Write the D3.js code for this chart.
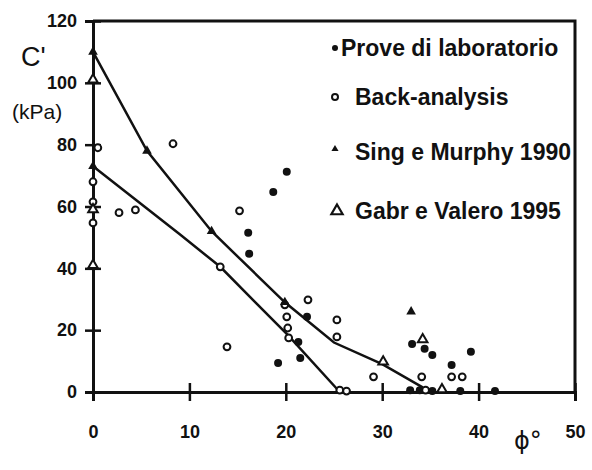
<!DOCTYPE html>
<html>
<head>
<meta charset="utf-8">
<title>C' - phi</title>
<script src="https://d3js.org/d3.v7.min.js"></script>
<style>
	body {margin:0; background:#fff;}
	text {fill:#111;}
</style>
</head>
<body>
<div id="chart"></div>
<script>
// phi (deg) , c' (kPa)
var prove = [[16.1,51.5],[16.2,44.7],[18.7,64.7],[20.1,71.2],[19.2,9.4],[21.3,16.2],[21.5,11],
	[22.2,24.3],[33.1,15.5],[34.4,14],[35.2,12],[39.2,13],[37.2,8.7],[32.9,0.6],[33.9,0.6],
	[35.2,0.3],[38.1,0.3],[41.7,0.3]];
var back = [[0.5,79],[8.3,80.3],[2.7,58],[4.4,58.9],[15.2,58.6],[13.2,40.5],[13.9,14.6],
	[19.9,28.2],[20.1,24.3],[20.2,20.7],[20.3,17.5],[22.3,29.8],[25.3,23.3],[25.3,17.8],
	[25.6,0.6],[26.3,0.3],[29.1,4.9],[34.1,4.9],[37.2,4.9],[38.3,4.9],[34.5,0.6],
	[0,68],[0,61.5],[0,54.7]];
var sing = [[0,110],[0,73],[5.6,78],[12.3,52],[19.9,29],[33,26]];
var gabr = [[0,101],[0,59],[0,41],[30.1,9.8],[34.2,17],[36.2,0.8]];

// fitted curves
var upperFit = [[0,110],[5.6,78],[12.3,52],[19.9,29],[25,16],[30,9],[34.2,1.5]];
var lowerFit = [[0,73],[4.5,62],[9,51],[13.2,40.5],[17,28.5],[20.2,18.5],[25.6,0]];

var xTicks = [0,10,20,30,40,50];
var yTicks = [0,20,40,60,80,100,120];
var legendLabels = ["Prove di laboratorio","Back-analysis","Sing e Murphy 1990","Gabr e Valero 1995"];

var svg = d3.select("#chart").append("svg")
	.attr("width",592)
	.attr("height",470);

var x = d3.scaleLinear().domain([0,50]).range([93,575]);
var y = d3.scaleLinear().domain([0,120]).range([392,21]);

var font = "'Liberation Sans', sans-serif";

// frame top + right
svg.append("path")
	.attr("d","M"+x(0)+","+y(120)+"H"+x(50)+"V"+y(0))
	.attr("fill","none").attr("stroke","#111").attr("stroke-width",3);

var yAxis = svg.append("g")
	.attr("transform","translate("+x(0)+",0)")
	.call(d3.axisLeft(y).tickValues(yTicks).tickSize(8).tickPadding(8));
yAxis.selectAll("line").attr("x1",8);

var xAxis = svg.append("g")
	.attr("transform","translate(0,"+y(0)+")")
	.call(d3.axisBottom(x).tickValues(xTicks).tickSize(9).tickPadding(24));
xAxis.selectAll("line").attr("y1",-9);

svg.selectAll(".domain").attr("stroke","#111").attr("stroke-width",3);
svg.selectAll(".tick line").attr("stroke","#111").attr("stroke-width",2.5);
svg.selectAll(".tick text")
	.attr("font-family",font).attr("font-size",18).attr("font-weight","bold").attr("fill","#111");

// fit lines
var line = d3.line().x(function(d){return x(d[0]);}).y(function(d){return y(d[1]);});
[upperFit,lowerFit].forEach(function(f){
	svg.append("path").attr("d",line(f))
		.attr("fill","none").attr("stroke","#111").attr("stroke-width",2.5);
});

var tri = d3.symbol().type(d3.symbolTriangle).size(40);

svg.selectAll(".prove").data(prove).enter().append("circle")
	.attr("cx",function(d){return x(d[0]);})
	.attr("cy",function(d){return y(d[1]);})
	.attr("r",4).attr("fill","#111");

svg.selectAll(".back").data(back).enter().append("circle")
	.attr("cx",function(d){return x(d[0]);})
	.attr("cy",function(d){return y(d[1]);})
	.attr("r",3.4).attr("fill","#fff").attr("stroke","#111").attr("stroke-width",2);

svg.selectAll(".sing").data(sing).enter().append("path")
	.attr("d",tri)
	.attr("transform",function(d){return "translate("+x(d[0])+","+y(d[1])+")";})
	.attr("fill","#111");

svg.selectAll(".gabr").data(gabr).enter().append("path")
	.attr("d",tri)
	.attr("transform",function(d){return "translate("+x(d[0])+","+y(d[1])+")";})
	.attr("fill","#fff").attr("stroke","#111").attr("stroke-width",2);

// legend
var legY = [48,97,152,211];
var legX = [341,355,355,355];
svg.append("circle").attr("cx",335).attr("cy",legY[0]).attr("r",3).attr("fill","#111");
svg.append("circle").attr("cx",335).attr("cy",legY[1]).attr("r",3).attr("fill","#fff")
	.attr("stroke","#111").attr("stroke-width",2);
svg.append("path").attr("d",d3.symbol().type(d3.symbolTriangle).size(22))
	.attr("transform","translate(335,"+(legY[2]-3)+")").attr("fill","#111");
svg.append("path").attr("d",d3.symbol().type(d3.symbolTriangle).size(55))
	.attr("transform","translate(337,"+legY[3]+")").attr("fill","#fff")
	.attr("stroke","#111").attr("stroke-width",2.2);

svg.selectAll(".leg").data(legendLabels).enter().append("text")
	.attr("x",function(d,i){return legX[i];})
	.attr("y",function(d,i){return legY[i];})
	.attr("dy","0.35em")
	.attr("font-family",font).attr("font-size",23).attr("font-weight","bold")
	.text(function(d){return d;});

// axis titles
svg.append("text").attr("x",21).attr("y",66)
	.attr("font-family",font).attr("font-size",27)
	.text("C'");
svg.append("text").attr("x",12).attr("y",119)
	.attr("font-family",font).attr("font-size",21)
	.text("(kPa)");
svg.append("text").attr("x",514).attr("y",449)
	.attr("font-family","'DejaVu Sans', sans-serif").attr("font-size",24)
	.text("ϕ°");
</script>
</body>
</html>
